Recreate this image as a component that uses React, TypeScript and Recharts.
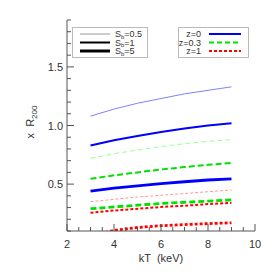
import React from "react";
import { LineChart, Line, XAxis, YAxis } from "recharts";

const kT = [3, 4, 5, 6, 7, 8, 9];
const z0_s05 = [1.08, 1.14, 1.19, 1.23, 1.27, 1.3, 1.33];
const z0_s1 = [0.83, 0.875, 0.91, 0.945, 0.975, 1.0, 1.02];
const z0_s5 = [0.44, 0.465, 0.485, 0.505, 0.52, 0.535, 0.545];
const z03_s05 = [0.72, 0.76, 0.79, 0.82, 0.845, 0.865, 0.88];
const z03_s1 = [0.545, 0.575, 0.6, 0.625, 0.645, 0.665, 0.68];
const z03_s5 = [0.29, 0.305, 0.32, 0.335, 0.345, 0.355, 0.365];
const z1_s05 = [0.35, 0.37, 0.39, 0.405, 0.42, 0.435, 0.45];
const z1_s1 = [0.255, 0.275, 0.29, 0.305, 0.315, 0.33, 0.34];
const z1_s5 = [0.06, 0.105, 0.13, 0.145, 0.155, 0.163, 0.17];

const xTicks = [2, 2.5, 3, 3.5, 4, 4.5, 5, 5.5, 6, 6.5, 7, 7.5, 8, 8.5, 9, 9.5, 10];
const xMajor = [2, 4, 6, 8, 10];
const yTicks = [0.1, 0.2, 0.3, 0.4, 0.5, 0.6, 0.7, 0.8, 0.9, 1.0, 1.1, 1.2, 1.3, 1.4, 1.5, 1.6, 1.7, 1.8, 1.9];
const yMajor = [0.5, 1.0, 1.5];

const data = kT.map((t, i) => ({
  kT: t,
  a: z0_s05[i],
  b: z0_s1[i],
  c: z0_s5[i],
  d: z03_s05[i],
  e: z03_s1[i],
  f: z03_s5[i],
  g: z1_s05[i],
  h: z1_s1[i],
  k: z1_s5[i],
}));

const FONT = "'Liberation Sans', Arial, sans-serif";
const AX = "#555";
const TXT = "#333";

const isMajorX = (v: number) => xMajor.some((m) => Math.abs(m - v) < 1e-6);
const isMajorY = (v: number) => yMajor.some((m) => Math.abs(m - v) < 1e-6);

const BottomTick = (p: any) => {
  const v = p.payload.value;
  const maj = isMajorX(v);
  return (
    <g>
      <line x1={p.x} y1={p.y} x2={p.x} y2={p.y - (maj ? 7 : 4)} stroke={AX} />
      {maj && (
        <text x={p.x} y={p.y + 17} textAnchor="middle" fontSize={11} fill={TXT} fontFamily={FONT}>
          {String(v)}
        </text>
      )}
    </g>
  );
};
const TopTick = (p: any) => {
  const maj = isMajorX(p.payload.value);
  return <line x1={p.x} y1={p.y} x2={p.x} y2={p.y + (maj ? 7 : 4)} stroke={AX} />;
};
const LeftTick = (p: any) => {
  const v = p.payload.value;
  const maj = isMajorY(v);
  return (
    <g>
      <line x1={p.x} y1={p.y} x2={p.x + (maj ? 7 : 4)} y2={p.y} stroke={AX} />
      {maj && (
        <text x={p.x - 4} y={p.y + 4} textAnchor="end" fontSize={11} fill={TXT} fontFamily={FONT}>
          {v.toFixed(1)}
        </text>
      )}
    </g>
  );
};
const RightTick = (p: any) => {
  const maj = isMajorY(p.payload.value);
  return <line x1={p.x} y1={p.y} x2={p.x - (maj ? 7 : 4)} y2={p.y} stroke={AX} />;
};

export default function App() {
  return (
    <div style={{ position: "absolute", left: 0, top: 0, width: 274, height: 274, background: "#fff" }}>
      <LineChart
        width={274}
        height={274}
        data={data}
        margin={{ top: 20, right: 19, left: 27, bottom: 13 }}
      >
        <XAxis
          xAxisId="b"
          dataKey="kT"
          type="number"
          domain={[2, 10]}
          ticks={xTicks}
          interval={0}
          height={30}
          tickSize={0}
          tickMargin={0}
          tickLine={false}
          tick={BottomTick}
          axisLine={{ stroke: AX }}
        />
        <XAxis
          xAxisId="t"
          orientation="top"
          dataKey="kT"
          type="number"
          domain={[2, 10]}
          ticks={xTicks}
          interval={0}
          height={0}
          tickSize={0}
          tickMargin={0}
          tickLine={false}
          tick={TopTick}
          axisLine={{ stroke: AX }}
        />
        <YAxis
          yAxisId="l"
          type="number"
          domain={[0.1, 1.9]}
          allowDataOverflow
          ticks={yTicks}
          interval={0}
          width={40}
          tickSize={0}
          tickMargin={0}
          tickLine={false}
          tick={LeftTick}
          axisLine={{ stroke: AX }}
        />
        <YAxis
          yAxisId="r"
          orientation="right"
          type="number"
          domain={[0.1, 1.9]}
          allowDataOverflow
          ticks={yTicks}
          interval={0}
          width={0}
          tickSize={0}
          tickMargin={0}
          tickLine={false}
          tick={RightTick}
          axisLine={{ stroke: AX }}
        />
        <Line xAxisId="b" yAxisId="l" dataKey="a" stroke="#8080ff" strokeWidth={1} dot={false} isAnimationActive={false} />
        <Line xAxisId="b" yAxisId="l" dataKey="b" stroke="#0000ff" strokeWidth={2} dot={false} isAnimationActive={false} />
        <Line xAxisId="b" yAxisId="l" dataKey="c" stroke="#0000ff" strokeWidth={2.8} dot={false} isAnimationActive={false} />
        <Line xAxisId="b" yAxisId="l" dataKey="d" stroke="#99ff99" strokeWidth={1} strokeDasharray="5 3" dot={false} isAnimationActive={false} />
        <Line xAxisId="b" yAxisId="l" dataKey="e" stroke="#00e000" strokeWidth={2} strokeDasharray="6 3" dot={false} isAnimationActive={false} />
        <Line xAxisId="b" yAxisId="l" dataKey="f" stroke="#00e000" strokeWidth={2.8} strokeDasharray="6 3" dot={false} isAnimationActive={false} />
        <Line xAxisId="b" yAxisId="l" dataKey="g" stroke="#ff9999" strokeWidth={1} strokeDasharray="3 2" dot={false} isAnimationActive={false} />
        <Line xAxisId="b" yAxisId="l" dataKey="h" stroke="#ff0000" strokeWidth={2} strokeDasharray="3 2" dot={false} isAnimationActive={false} />
        <Line xAxisId="b" yAxisId="l" dataKey="k" stroke="#ff0000" strokeWidth={2.8} strokeDasharray="3 2" dot={false} isAnimationActive={false} />
      </LineChart>
      <svg
        width={274}
        height={274}
        style={{ position: "absolute", left: 0, top: 0, pointerEvents: "none" }}
        fontFamily={FONT}
      >
        <text x={161} y={262} textAnchor="middle" fontSize={11} fill={TXT} xmlSpace="preserve">
          kT  (keV)
        </text>
        <text transform="translate(34,122) rotate(-90)" textAnchor="middle" fontSize={11} fill={TXT} xmlSpace="preserve">
          x  R<tspan fontSize={8} dy={3}>200</tspan>
        </text>

        <rect x={72.5} y={27.5} width={75} height={30} fill="#fff" stroke="#bbb" />
        <line x1={80} y1={34} x2={110} y2={34} stroke="#999" strokeWidth={1} />
        <line x1={80} y1={42.5} x2={110} y2={42.5} stroke="#000" strokeWidth={2} />
        <line x1={80} y1={51} x2={110} y2={51} stroke="#000" strokeWidth={3} />
        <text x={115} y={37} fontSize={9} fill={TXT}>
          S<tspan fontSize={6} dy={1.5}>b</tspan><tspan dy={-1.5}>=0.5</tspan>
        </text>
        <text x={115} y={45.5} fontSize={9} fill={TXT}>
          S<tspan fontSize={6} dy={1.5}>b</tspan><tspan dy={-1.5}>=1</tspan>
        </text>
        <text x={115} y={54} fontSize={9} fill={TXT}>
          S<tspan fontSize={6} dy={1.5}>b</tspan><tspan dy={-1.5}>=5</tspan>
        </text>

        <rect x={178.5} y={27.5} width={70} height={30} fill="#fff" stroke="#bbb" />
        <text x={201} y={37} fontSize={9} fill={TXT} textAnchor="end">z=0</text>
        <text x={201} y={45.5} fontSize={9} fill={TXT} textAnchor="end">z=0.3</text>
        <text x={201} y={54} fontSize={9} fill={TXT} textAnchor="end">z=1</text>
        <line x1={209} y1={34} x2={241} y2={34} stroke="#0000ff" strokeWidth={2} />
        <line x1={209} y1={42.5} x2={241} y2={42.5} stroke="#00e000" strokeWidth={2} strokeDasharray="5 3" />
        <line x1={209} y1={51} x2={241} y2={51} stroke="#ff0000" strokeWidth={2} strokeDasharray="3 2" />
      </svg>
    </div>
  );
}
